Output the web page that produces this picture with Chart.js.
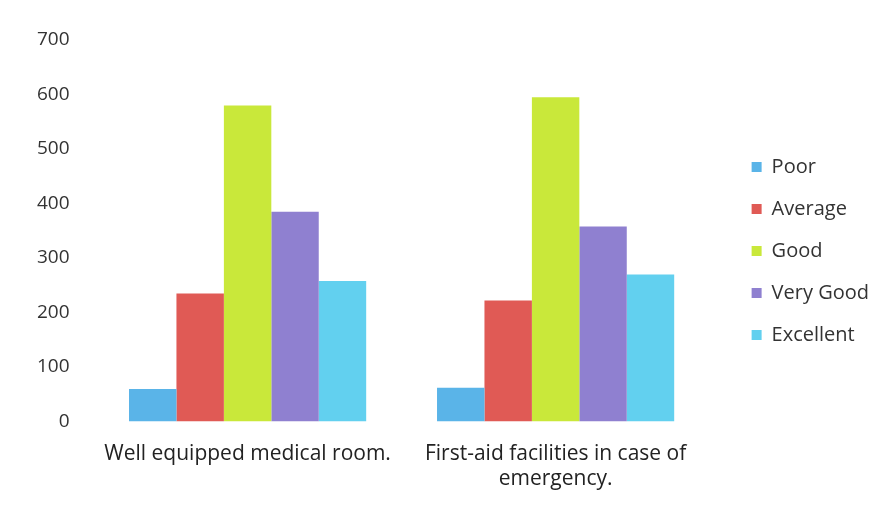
<!DOCTYPE html>
<html>
<head>
<meta charset="utf-8">
<script src="https://cdn.jsdelivr.net/npm/chart.js@4/dist/chart.umd.min.js"></script>
<style>
  body { margin: 0; background: #fff; }
  #wrap { width: 888px; height: 527px; }
</style>
</head>
<body>
<div id="wrap"><canvas id="myChart"></canvas></div>
<script>
const categories = ['Well equipped medical room.', ['First-aid facilities in case of', 'emergency.']];
const poor = [60, 62];
const average = [235, 222];
const good = [580, 595];
const veryGood = [385, 358];
const excellent = [258, 270];
const yTicks = [0, 100, 200, 300, 400, 500, 600, 700];

const font = "'Open Sans', 'Lato', sans-serif";

const ctx = document.getElementById('myChart');

// nudge the legend to where it sits in the picture
const legendShift = {
    id: 'legendShift',
    afterLayout(chart) {
        const lg = chart.legend;
        const dx = 20, dy = -21;
        lg.left += dx; lg.right += dx;
        lg.top += dy; lg.bottom += dy;
    }
};

new Chart(ctx, {
    type: 'bar',
    data: {
        labels: categories,
        datasets: [
            { label: 'Poor', data: poor, backgroundColor: '#5ab4e8' },
            { label: 'Average', data: average, backgroundColor: '#e05a55' },
            { label: 'Good', data: good, backgroundColor: '#c9e83a' },
            { label: 'Very Good', data: veryGood, backgroundColor: '#8f80d0' },
            { label: 'Excellent', data: excellent, backgroundColor: '#62d0ef' }
        ]
    },
    options: {
        responsive: true,
        maintainAspectRatio: false,
        animation: false,
        layout: { padding: { left: 21, top: 40, right: 29, bottom: 23 } },
        datasets: { bar: { categoryPercentage: 0.77, barPercentage: 1 } },
        scales: {
            x: {
                grid: { display: false },
                border: { display: false },
                ticks: { color: '#222', font: { family: font, size: 21 }, padding: 12, maxRotation: 0 }
            },
            y: {
                min: 0,
                max: 700,
                afterBuildTicks: (axis) => { axis.ticks = yTicks.map(v => ({ value: v })); },
                grid: { display: false },
                border: { display: false },
                ticks: { color: '#333', font: { family: font, size: 19 }, padding: 16 }
            }
        },
        plugins: {
            legend: {
                position: 'right',
                align: 'center',
                labels: {
                    color: '#333',
                    font: { family: font, size: 20 },
                    boxWidth: 10,
                    boxHeight: 10,
                    padding: 22
                }
            },
            tooltip: { enabled: false }
        }
    },
    plugins: [legendShift]
});
</script>
</body>
</html>
